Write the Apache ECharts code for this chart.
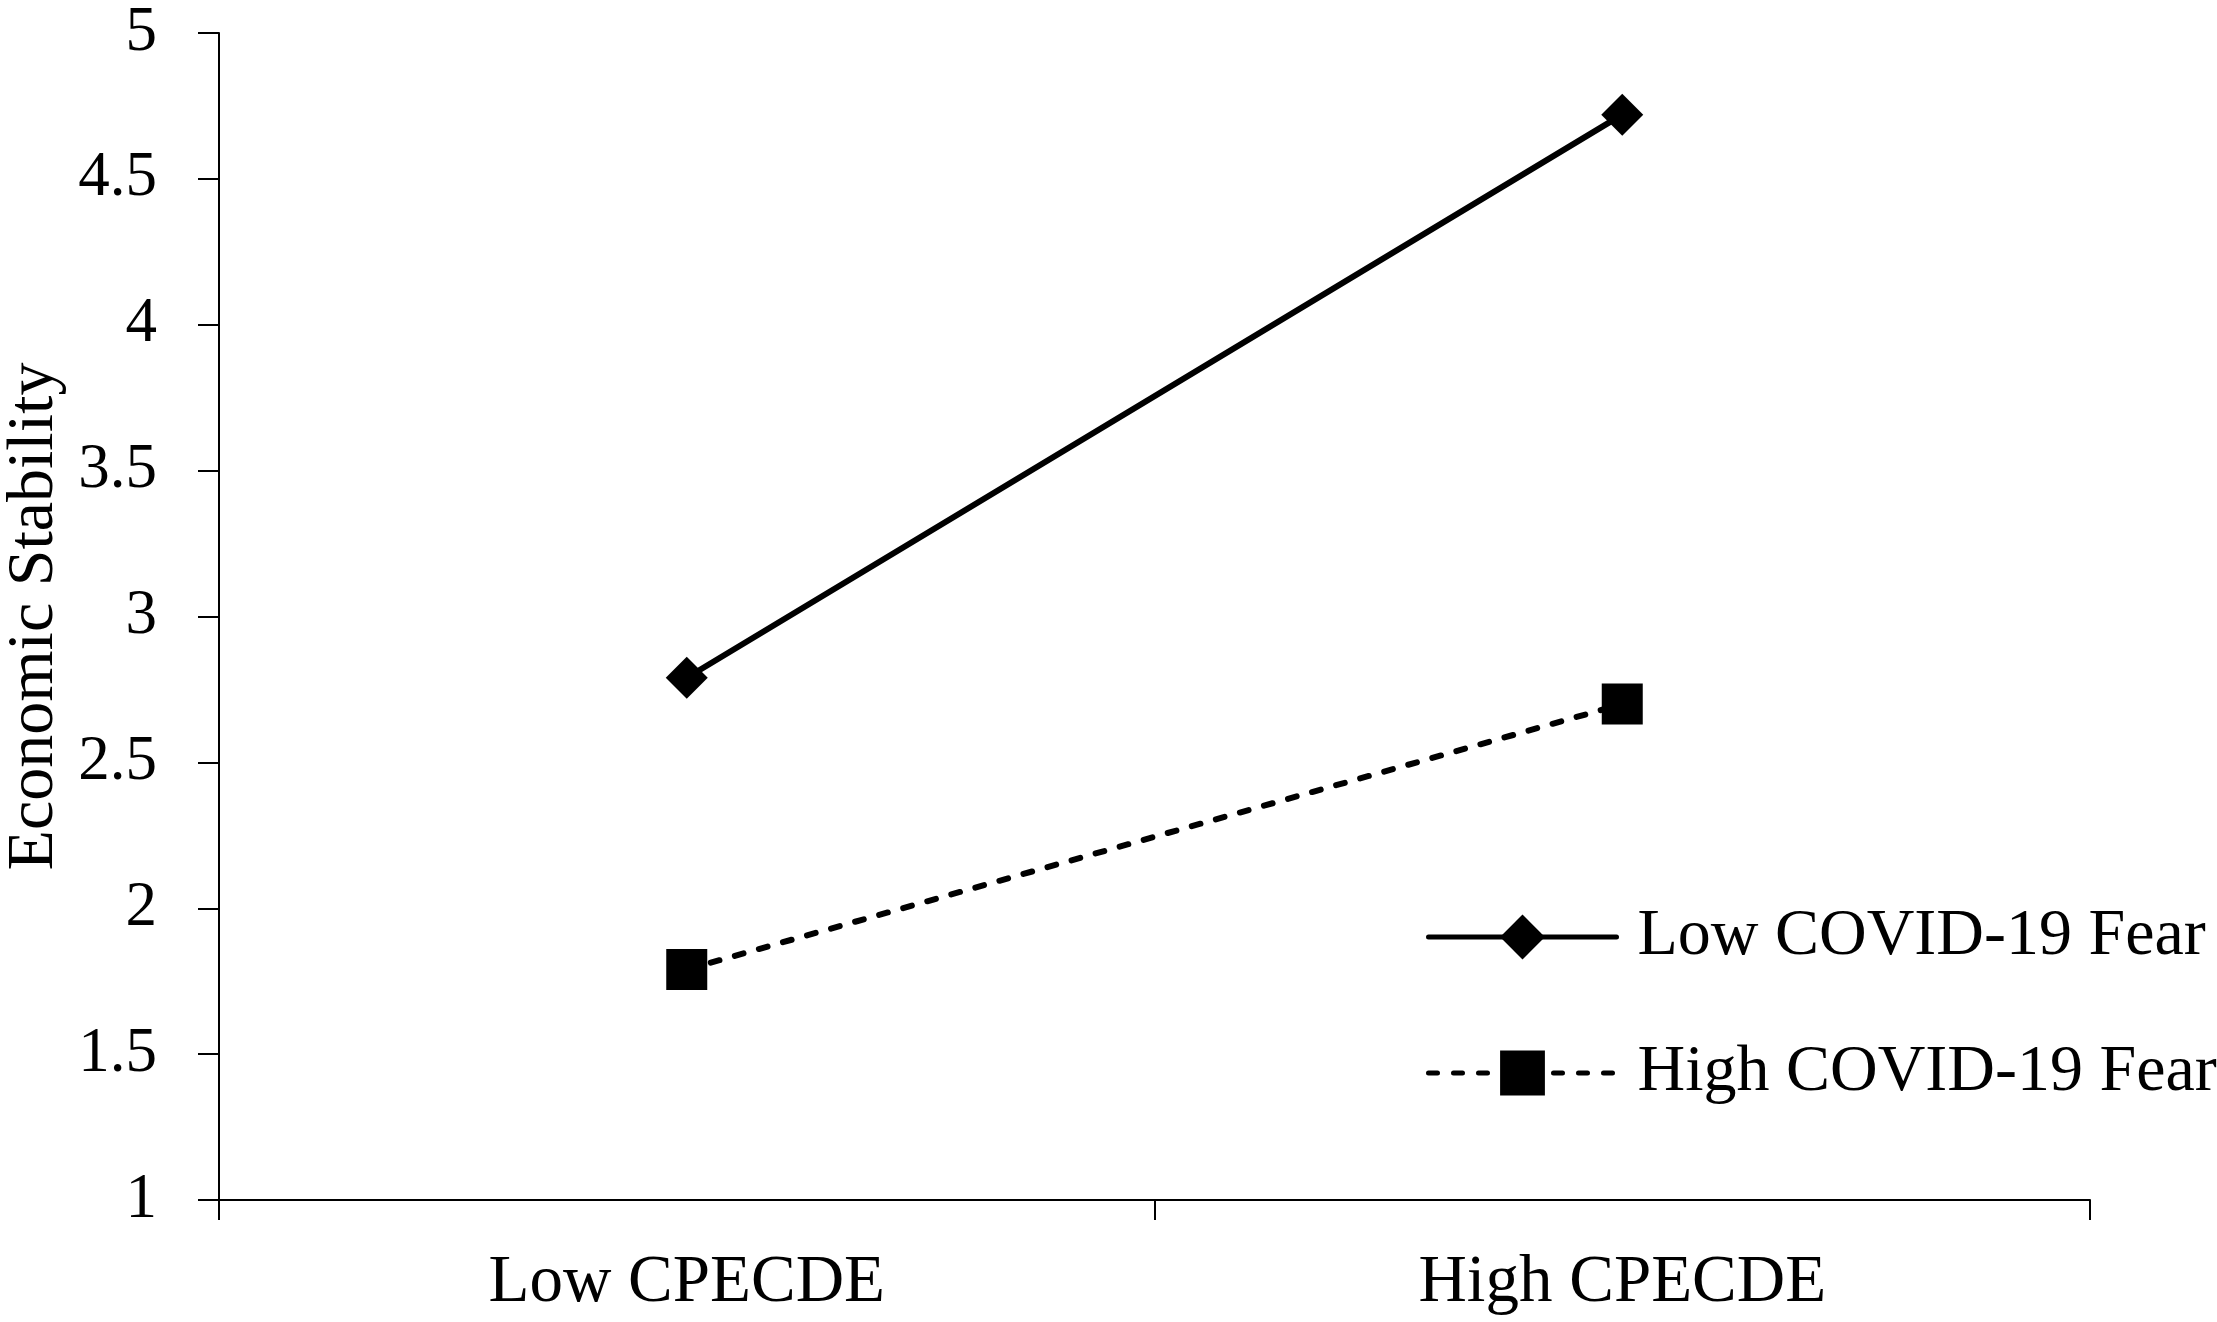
<!DOCTYPE html>
<html>
<head>
<meta charset="utf-8">
<script src="https://cdn.jsdelivr.net/npm/echarts@6/dist/echarts.min.js"></script>
<style>
  html, body { margin: 0; padding: 0; background: #fff; }
  #chart { width: 2217px; height: 1322px; }
</style>
</head>
<body>
<div id="chart"></div>
<script>
const categories = ["Low CPECDE", "High CPECDE"];
const lowFear = [2.79, 4.72];
const highFear = [1.79, 2.70];
const seriesNames = ["Low COVID-19 Fear", "High COVID-19 Fear"];
const yTicks = { min: 1, max: 5, interval: 0.5 };

const font = '"Liberation Serif", "Times New Roman", serif';
const chart = echarts.init(document.getElementById("chart"));

const option = {
  backgroundColor: "#fff",
  animation: false,
  textStyle: { fontFamily: font, color: "#000" },
  grid: { left: 219, right: 127, top: 33, bottom: 122, containLabel: false, outerBoundsMode: "none" },
  legend: {
    orient: "vertical",
    left: 1421,
    top: 899,
    itemWidth: 188,
    itemHeight: 56,
    itemGap: 70,
    lineStyle: { width: 5 },
    textStyle: { fontFamily: font, fontSize: 66, color: "#000", padding: [0, 0, 0, 16] },
    data: seriesNames
  },
  xAxis: {
    type: "category",
    data: categories,
    boundaryGap: true,
    axisLine: { lineStyle: { color: "#000", width: 2 } },
    axisTick: { show: true, length: 20, lineStyle: { color: "#000", width: 2 } },
    axisLabel: { fontFamily: font, fontSize: 67, color: "#000", margin: 50 }
  },
  yAxis: {
    type: "value",
    min: yTicks.min,
    max: yTicks.max,
    interval: yTicks.interval,
    name: "Economic Stability",
    nameLocation: "middle",
    nameGap: 150,
    nameTextStyle: { fontFamily: font, fontSize: 66, color: "#000" },
    axisLine: { show: true, lineStyle: { color: "#000", width: 2 } },
    axisTick: { show: true, length: 21, lineStyle: { color: "#000", width: 2 } },
    splitLine: { show: false },
    axisLabel: { fontFamily: font, fontSize: 63, color: "#000", margin: 62 }
  },
  series: [
    {
      name: seriesNames[0],
      type: "line",
      data: lowFear,
      symbol: "diamond",
      symbolSize: 42,
      itemStyle: { color: "#000" },
      lineStyle: { color: "#000", width: 6, cap: "round" }
    },
    {
      name: seriesNames[1],
      type: "line",
      data: highFear,
      symbol: "rect",
      symbolSize: 41,
      itemStyle: { color: "#000" },
      lineStyle: { color: "#000", width: 6, type: [9, 16], cap: "round" }
    }
  ]
};

chart.setOption(option);
</script>
</body>
</html>
